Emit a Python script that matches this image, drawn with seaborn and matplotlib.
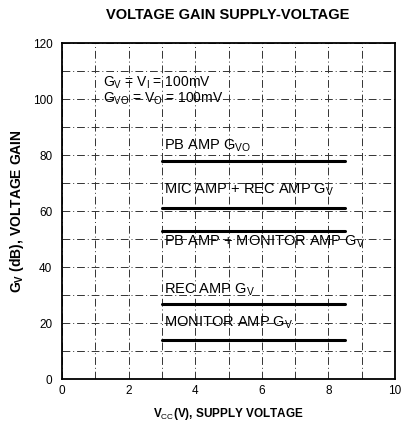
import matplotlib
matplotlib.use("Agg")
import matplotlib.pyplot as plt
import seaborn as sns
import pandas as pd

sns.set_theme(style="white")
plt.rcParams["font.family"] = ["Liberation Sans", "DejaVu Sans"]
plt.rcParams["text.color"] = "black"
plt.rcParams["axes.labelcolor"] = "black"
plt.rcParams["mathtext.fontset"] = "custom"
plt.rcParams["mathtext.rm"] = "Liberation Sans"
plt.rcParams["mathtext.bf"] = "Liberation Sans:bold"

# Gain curves: each amplifier stage is flat over the supply range
vcc_range = [3.0, 8.5]
curve_names = ["PB AMP G_VO", "MIC AMP + REC AMP G_V", "PB AMP + MONITOR AMP G_V",
               "REC AMP G_V", "MONITOR AMP G_V"]
curve_gain_db = [78, 61, 53, 27, 14]

curve_labels = [r"PB AMP G$_{\mathrm{VO}}$",
                r"MIC AMP + REC AMP G$_{\mathrm{V}}$",
                r"PB AMP + MONITOR AMP G$_{\mathrm{V}}$",
                r"REC AMP G$_{\mathrm{V}}$",
                r"MONITOR AMP G$_{\mathrm{V}}$"]
label_offsets = [5.5, 6.5, -4.0, 5.0, 6.0]

x_ticks = [0, 2, 4, 6, 8, 10]
y_ticks = [0, 20, 40, 60, 80, 100, 120]

rows = []
for name, g in zip(curve_names, curve_gain_db):
    for v in vcc_range:
        rows.append({"curve": name, "vcc": v, "gain": g})
df = pd.DataFrame(rows)

fig = plt.figure(figsize=(4.01, 4.26), dpi=100)
ax = fig.add_axes([0.155, 0.110, 0.83, 0.789])

sns.lineplot(data=df, x="vcc", y="gain", units="curve", estimator=None,
             color="black", linewidth=2.2, ax=ax, legend=False)

ax.set_xlim(0, 10)
ax.set_ylim(0, 120)
ax.set_xticks(x_ticks)
ax.set_yticks(y_ticks)
ax.set_xticks(range(0, 11), minor=True)
ax.set_yticks(range(0, 121, 10), minor=True)
ax.grid(True, which="both", color="#333333", linewidth=0.7,
        linestyle=(0, (8, 3, 1, 3)))
ax.tick_params(which="both", length=0, labelsize=8.5, colors="black")
ax.tick_params(axis="x", pad=4)
ax.tick_params(axis="y", pad=7)
for s in ax.spines.values():
    s.set_color("black")
    s.set_linewidth(1.3)

for lab, g, off in zip(curve_labels, curve_gain_db, label_offsets):
    ax.text(3.05, g + off, lab, fontsize=10.5, color="black",
            va="center", ha="left")

ax.text(1.22, 105.7, r"G$_{\mathrm{V}}$ = V$_{\mathrm{I}}$ = 100mV",
        fontsize=10, color="black", va="center")
ax.text(1.22, 100, r"G$_{\mathrm{VO}}$ = V$_{\mathrm{O}}$ = 100mV",
        fontsize=10, color="black", va="center")

ax.set_xlabel(r"V$_{\mathrm{CC}}$(V), SUPPLY VOLTAGE", fontsize=8.5,
              fontweight="bold", labelpad=7)
ax.set_ylabel(r"$\mathbf{G_V}$ (dB), VOLTAGE GAIN", fontsize=10,
              fontweight="bold", labelpad=5)
fig.suptitle("VOLTAGE GAIN SUPPLY-VOLTAGE", x=0.569, y=0.982,
             fontsize=10.5, fontweight="bold")

fig.savefig("out.png", dpi=100)
